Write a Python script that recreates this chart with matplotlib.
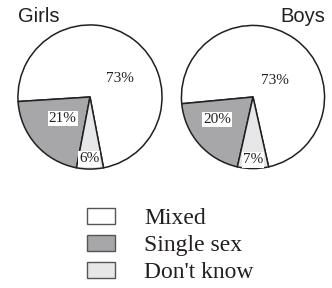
import matplotlib
matplotlib.use("Agg")
import matplotlib.pyplot as plt
from matplotlib.patches import Rectangle

categories = ["Mixed", "Single sex", "Don't know"]
girls_values = [73, 21, 6]
boys_values = [73, 20, 7]
titles = ["Girls", "Boys"]
colors = ["#ffffff", "#a7a7a9", "#e6e7e8"]

W, H = 332, 288
fig = plt.figure(figsize=(W / 100, H / 100), dpi=100)

serif = "Liberation Serif"
sans = "Liberation Sans"


def px_axes(cx, cy, r):
    return fig.add_axes([(cx - r) / W, (H - cy - r) / H, 2 * r / W, 2 * r / H])


# layout: (center x, center y, radius) in pixels, label offsets in radius units
pies = [
    dict(vals=girls_values, cx=90, cy=97, r=73.5,
         lab=[(0.42, 0.26, False), (-0.38, -0.30, True), (-0.01, -0.86, True)]),
    dict(vals=boys_values, cx=253, cy=97, r=73,
         lab=[(0.30, 0.23, False), (-0.50, -0.32, True), (0.0, -0.88, True)]),
]

for p in pies:
    ax = px_axes(p["cx"], p["cy"], p["r"])
    vals = p["vals"]
    dk = vals[2] / sum(vals) * 360
    start = 270 + dk / 2 - 360
    ax.pie(vals, colors=colors, startangle=start, counterclock=True,
           wedgeprops=dict(edgecolor="#231f20", linewidth=1.1))
    ax.set_xlim(-1.02, 1.02)
    ax.set_ylim(-1.02, 1.02)
    for v, (x, y, boxed) in zip(vals, p["lab"]):
        kw = {}
        if boxed:
            kw["bbox"] = dict(facecolor="white", edgecolor="none", pad=0.8)
        ax.text(x, y, f"{v}%", ha="center", va="center", fontsize=11,
                family=serif, color="#231f20", **kw)

fig.text(18 / W, 1 - 17 / H, titles[0], family=sans, fontsize=14.5,
         ha="left", va="center", color="#231f20")
fig.text(325 / W, 1 - 17 / H, titles[1], family=sans, fontsize=14.5,
         ha="right", va="center", color="#231f20")

# legend
row_y = [216, 243, 270]
for cat, col, yc in zip(categories, colors, row_y):
    fig.patches.append(Rectangle((87 / W, 1 - (yc + 8) / H), 28 / W, 16 / H,
                                 transform=fig.transFigure, facecolor=col,
                                 edgecolor="#555555", linewidth=1.0))
    fig.text(144 / W, 1 - (yc + 8.5) / H, cat, family=serif, fontsize=17,
             ha="left", va="baseline", color="#231f20")

fig.savefig("out.png", dpi=100)
